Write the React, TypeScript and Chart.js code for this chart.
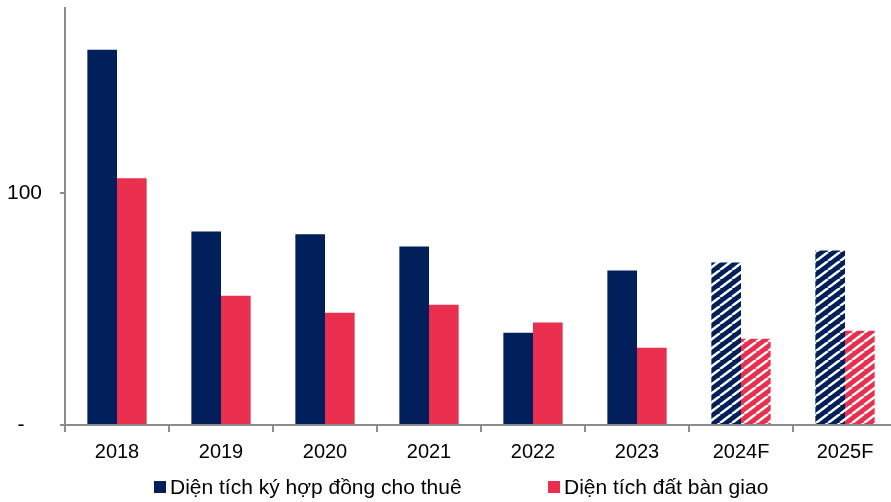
import React, { useEffect, useRef } from 'react';
import { Chart, registerables } from 'chart.js';

Chart.register(...registerables);

const categories = ['2018', '2019', '2020', '2021', '2022', '2023', '2024F', '2025F'];
const leasedArea = [162, 83.5, 82.3, 77.1, 39.8, 66.7, 70.1, 75.3];
const handedOverArea = [106.5, 55.8, 48.5, 51.9, 44.2, 33.3, 37.2, 40.7];
const forecastFlags = [false, false, false, false, false, false, true, true];
const seriesNames = ['Diện tích ký hợp đồng cho thuê', 'Diện tích đất bàn giao'];
const yTickValues = [0, 100];
const yTickLabels = ['-', '100'];

const NAVY = '#001F5B';
const RED = '#EA2E4D';
const AXIS = '#8c8c8c';
const FONT = '"Liberation Sans", Arial, sans-serif';

function makeHatch(ctx: CanvasRenderingContext2D, color: string) {
  const w = 12;
  const h = 9;
  const tile = document.createElement('canvas');
  tile.width = w;
  tile.height = h;
  const g = tile.getContext('2d')!;
  g.fillStyle = color;
  g.fillRect(0, 0, w, h);
  g.strokeStyle = '#ffffff';
  g.lineWidth = 2.5;
  g.beginPath();
  g.moveTo(-w, h);
  g.lineTo(0, 0);
  g.moveTo(0, h);
  g.lineTo(w, 0);
  g.moveTo(w, h);
  g.lineTo(2 * w, 0);
  g.stroke();
  return ctx.createPattern(tile, 'repeat') as CanvasPattern;
}

export default function App() {
  const canvasRef = useRef<HTMLCanvasElement | null>(null);

  useEffect(() => {
    document.body.style.overflow = 'hidden';
    const canvas = canvasRef.current!;
    const ctx = canvas.getContext('2d')!;
    const navyHatch = makeHatch(ctx, NAVY);
    const redHatch = makeHatch(ctx, RED);

    const chart = new Chart(canvas, {
      type: 'bar',
      data: {
        labels: categories,
        datasets: [
          {
            label: seriesNames[0],
            data: leasedArea,
            backgroundColor: forecastFlags.map((f) => (f ? navyHatch : NAVY)) as any,
            borderWidth: 0,
            categoryPercentage: 0.57,
            barPercentage: 1,
          },
          {
            label: seriesNames[1],
            data: handedOverArea,
            backgroundColor: forecastFlags.map((f) => (f ? redHatch : RED)) as any,
            borderWidth: 0,
            categoryPercentage: 0.57,
            barPercentage: 1,
          },
        ],
      },
      options: {
        animation: false,
        responsive: false,
        devicePixelRatio: 1,
        layout: { padding: { top: 8, left: 0, right: 0, bottom: 0 } },
        plugins: {
          legend: { display: false },
          tooltip: { enabled: false },
        },
        scales: {
          x: {
            offset: true,
            grid: {
              display: true,
              offset: true,
              drawOnChartArea: false,
              drawTicks: true,
              tickLength: 7,
              color: AXIS,
              lineWidth: 2,
            },
            border: { display: true, color: AXIS, width: 2 },
            ticks: {
              font: { family: FONT, size: 20 },
              color: '#000',
              padding: 8,
              maxRotation: 0,
              autoSkip: false,
            },
            afterFit: (s: any) => {
              s.height = 77;
              s.paddingLeft = 0;
              s.paddingRight = 0;
            },
          },
          y: {
            min: 0,
            max: 180,
            afterBuildTicks: (s: any) => {
              s.ticks = yTickValues.map((v) => ({ value: v }));
            },
            grid: {
              display: true,
              drawOnChartArea: false,
              drawTicks: true,
              tickLength: 5,
              color: AXIS,
              lineWidth: 2,
            },
            border: { display: true, color: AXIS, width: 2 },
            ticks: {
              font: { family: FONT, size: 21 },
              color: '#000',
              padding: 18,
              callback: (_v: any, i: number) => {
                const l = yTickLabels[i] ?? '';
                return l === '-' ? '-\u00a0\u00a0\u00a0' : l;
              },
            },
            afterFit: (s: any) => {
              s.width = 65;
              s.paddingTop = 0;
              s.paddingBottom = 0;
            },
          },
        },
      },
    });
    return () => chart.destroy();
  }, []);

  const legendColors = [NAVY, RED];
  const legendLefts = [154, 548];

  return (
    <div style={{ position: 'fixed', left: 0, top: 0, width: 897, height: 502, background: '#fff' }}>
      <canvas ref={canvasRef} width={897} height={502} style={{ display: 'block', width: 897, height: 502 }} />
      {seriesNames.map((name, i) => (
        <div
          key={name}
          style={{
            position: 'absolute',
            left: legendLefts[i],
            top: 475,
            height: 24,
            lineHeight: '24px',
            display: 'flex',
            alignItems: 'center',
            fontFamily: FONT,
            fontSize: 21,
            color: '#000',
            whiteSpace: 'nowrap',
          }}
        >
          <span style={{ display: 'inline-block', width: 12, height: 12, background: legendColors[i], marginRight: 4 }} />
          <span>{name}</span>
        </div>
      ))}
    </div>
  );
}
